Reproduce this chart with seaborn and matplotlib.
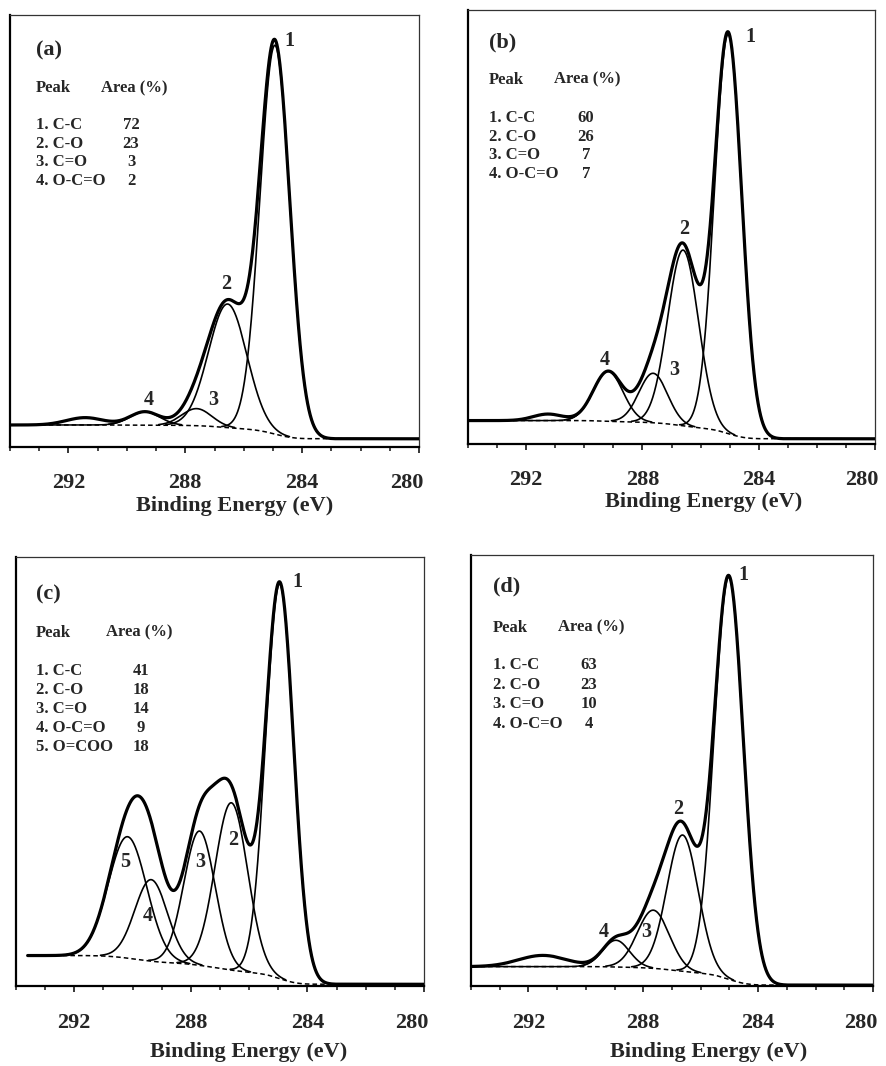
import numpy as np
import pandas as pd
import matplotlib
matplotlib.use("Agg")
import matplotlib.pyplot as plt
import matplotlib.transforms as mtransforms
import seaborn as sns
from matplotlib.ticker import MultipleLocator

# ---------------- data ----------------
panel_tags = ["(a)", "(b)", "(c)", "(d)"]

species_a = ["C-C", "C-O", "C=O", "O-C=O"]
species_b = ["C-C", "C-O", "C=O", "O-C=O"]
species_c = ["C-C", "C-O", "C=O", "O-C=O", "O=COO"]
species_d = ["C-C", "C-O", "C=O", "O-C=O"]

area_pct_a = [72, 23, 3, 2]
area_pct_b = [60, 26, 7, 7]
area_pct_c = [41, 18, 14, 9, 18]
area_pct_d = [63, 23, 10, 4]

# fitted components: centre (eV), height (% of plot height), FWHM (eV)
peak_center_a = [284.93, 286.55, 287.61, 289.38]
peak_height_a = [90.0, 28.6, 3.95, 3.1]
peak_fwhm_a = [1.20, 1.54, 1.20, 1.20]

peak_center_b = [285.05, 286.60, 287.63, 289.18]
peak_height_b = [92.0, 40.5, 11.4, 11.5]
peak_fwhm_b = [1.10, 1.25, 1.15, 1.20]

peak_center_c = [284.95, 286.61, 287.70, 289.36, 290.17]
peak_height_c = [92.0, 39.0, 31.3, 19.0, 28.3]
peak_fwhm_c = [1.12, 1.32, 1.26, 1.32, 1.55]

peak_center_d = [285.02, 286.63, 287.65, 288.95]
peak_height_d = [93.3, 31.6, 13.5, 6.2]
peak_fwhm_d = [1.19, 1.28, 1.30, 1.10]

# background levels [high-BE side, low-BE side]
background_a = [5.1, 1.9]
background_b = [5.4, 1.2]
background_c = [7.1, 0.4]
background_d = [4.5, 0.2]

# unfitted shake-up satellite in the measured spectrum [centre, height, FWHM]
satellite_a = [291.43, 1.7, 1.5]
satellite_b = [291.25, 1.5, 1.2]
satellite_c = [291.0, 0.0, 1.0]
satellite_d = [291.50, 2.6, 2.0]

# measured range start (high BE end)
scan_start = [294.0, 294.0, 293.6, 294.0]

tick_values = [292, 288, 284, 280]

# ---------------- layout ----------------
W, H = 886, 1066
axes_px = [  # left, top, right, bottom in pixels
    (10, 15, 419, 447),
    (468, 10, 875, 444),
    (16, 557, 424, 986),
    (471, 555, 873, 986),
]
tag_pos = [(0.063, 0.919), (0.052, 0.926), (0.049, 0.912), (0.055, 0.926)]
header_y = [0.831, 0.839, 0.824, 0.831]
row_y0 = [0.745, 0.751, 0.734, 0.745]
row_dy = [0.0430, 0.0430, 0.0440, 0.0455]
area_x = [0.222, 0.211, 0.221, 0.216]
num_x = [0.296, 0.290, 0.306, 0.293]
xlabel_pos = [(0.550, -0.137), (0.580, -0.134), (0.569, -0.154), (0.590, -0.153)]
tick_pad = [14.0, 14.0, 15.0, 15.0]

peak_label_pos = [
    [(284.42, 94.0), (286.60, 37.7), (287.04, 10.9), (289.24, 10.9)],
    [(284.30, 93.8), (286.58, 49.6), (286.89, 17.0), (289.30, 19.4)],
    [(284.34, 94.2), (286.56, 34.0), (287.67, 29.0), (289.48, 16.4), (290.25, 29.0)],
    [(284.53, 95.3), (286.77, 41.0), (287.88, 12.6), (289.38, 12.6)],
]

panels = [
    (species_a, area_pct_a, peak_center_a, peak_height_a, peak_fwhm_a, background_a, satellite_a),
    (species_b, area_pct_b, peak_center_b, peak_height_b, peak_fwhm_b, background_b, satellite_b),
    (species_c, area_pct_c, peak_center_c, peak_height_c, peak_fwhm_c, background_c, satellite_c),
    (species_d, area_pct_d, peak_center_d, peak_height_d, peak_fwhm_d, background_d, satellite_d),
]

sns.set_style("white")
plt.rcParams["font.family"] = ["Liberation Serif", "DejaVu Serif"]
plt.rcParams["font.weight"] = "bold"

fig = plt.figure(figsize=(W / 100, H / 100), dpi=100)

energy = np.linspace(280.0, 294.0, 2801)


def gauss(x, c, h, w):
    return h * np.exp(-4.0 * np.log(2.0) * (x - c) ** 2 / w ** 2)


for i, (names, areas, cen, hgt, fw, bg, sat) in enumerate(panels):
    l, t, r, b = axes_px[i]
    ax = fig.add_axes([l / W, 1 - b / H, (r - l) / W, (b - t) / H])

    comps = [gauss(energy, c, h, w) for c, h, w in zip(cen, hgt, fw)]
    total = np.sum(comps, axis=0)
    cum = np.cumsum(total)
    base = bg[1] + (bg[0] - bg[1]) * cum / cum[-1]
    envelope = base + total
    measured = envelope + gauss(energy, sat[0], sat[1], sat[2])

    in_scan = energy <= scan_start[i]

    # background (dashed)
    ax.plot(energy[in_scan], base[in_scan], color="black", lw=1.1,
            ls=(0, (3.0, 2.0)), zorder=2)

    # components
    for comp in comps:
        m = (comp > 0.15) & in_scan
        dfc = pd.DataFrame({"BE": energy[m], "I": comp[m] + base[m]})
        sns.lineplot(data=dfc, x="BE", y="I", ax=ax, color="black", lw=1.2,
                     estimator=None, zorder=3)

    # envelope and measured curves
    dfe = pd.DataFrame({"BE": energy[in_scan], "I": envelope[in_scan]})
    sns.lineplot(data=dfe, x="BE", y="I", ax=ax, color="black", lw=1.1,
                 estimator=None, zorder=4)
    dfm = pd.DataFrame({"BE": energy[in_scan], "I": measured[in_scan]})
    sns.lineplot(data=dfm, x="BE", y="I", ax=ax, color="black", lw=2.3,
                 estimator=None, zorder=5)

    ax.set_xlim(294, 280)
    ax.set_ylim(0, 100)
    ax.set_yticks([])
    ax.set_ylabel("")
    ax.xaxis.set_minor_locator(MultipleLocator(1))
    ax.set_xticks(tick_values)
    ax.set_xticklabels([str(v) for v in tick_values])
    ax.tick_params(axis="x", which="major", direction="out", length=4.5,
                   width=1.3, pad=tick_pad[i], labelsize=16, bottom=True)
    ax.tick_params(axis="x", which="minor", direction="out", length=3.0,
                   width=1.2, bottom=True)
    labs = ax.get_xticklabels()
    for lab in labs:
        lab.set_fontweight("bold")
    # last label ("280") sits just inside the right frame edge
    labs[-1].set_horizontalalignment("right")
    labs[-1].set_transform(labs[-1].get_transform() +
                           mtransforms.ScaledTranslation(4 / 100, 0, fig.dpi_scale_trans))

    for side in ["left", "bottom"]:
        ax.spines[side].set_linewidth(1.6)
        ax.spines[side].set_color("black")
    for side in ["top", "right"]:
        ax.spines[side].set_linewidth(0.9)
        ax.spines[side].set_color("#333333")

    ax.set_xlabel("Binding Energy (eV)", fontsize=16, fontweight="bold")
    ax.xaxis.set_label_coords(*xlabel_pos[i])
    ax.xaxis.label.set_va("center")

    tx = tag_pos[i][0]
    ax.text(tx, tag_pos[i][1], panel_tags[i], transform=ax.transAxes,
            fontsize=16, fontweight="bold", ha="left", va="center")
    ax.text(tx, header_y[i], "Peak", transform=ax.transAxes,
            fontsize=12, fontweight="bold", ha="left", va="center")
    ax.text(area_x[i], header_y[i], "Area (%)", transform=ax.transAxes,
            fontsize=12, fontweight="bold", ha="left", va="center")
    for k, (nm, ar) in enumerate(zip(names, areas)):
        yy = row_y0[i] - k * row_dy[i]
        ax.text(tx, yy, f"{k + 1}. {nm}", transform=ax.transAxes,
                fontsize=12, fontweight="bold", ha="left", va="center")
        ax.text(num_x[i], yy, f"{ar}", transform=ax.transAxes,
                fontsize=12, fontweight="bold", ha="center", va="center")

    for k, (px, py) in enumerate(peak_label_pos[i]):
        ax.text(px, py, str(k + 1), fontsize=14.5, fontweight="bold",
                ha="center", va="center", zorder=6)

fig.savefig("out.png", dpi=100)
